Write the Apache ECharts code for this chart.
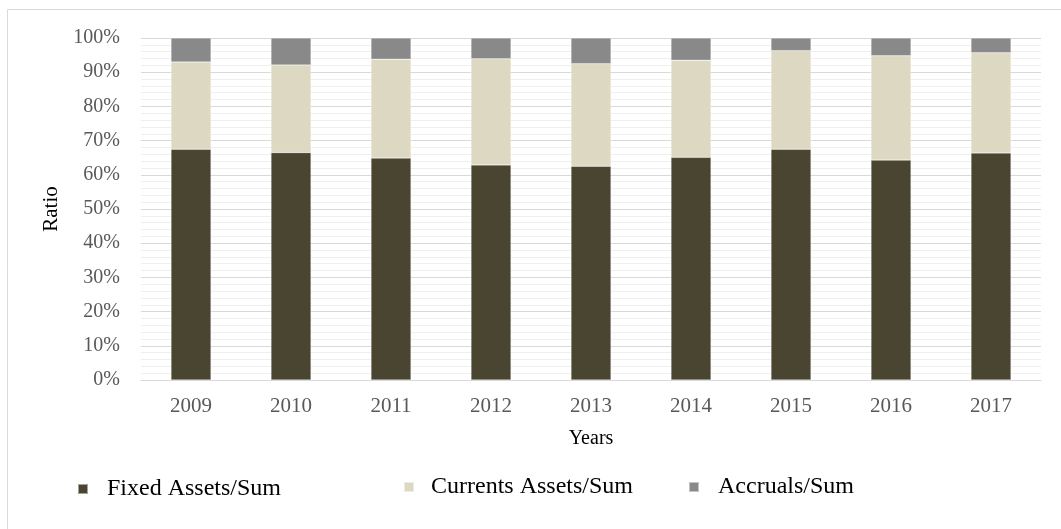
<!DOCTYPE html>
<html><head><meta charset="utf-8">
<script src="https://cdn.jsdelivr.net/npm/echarts@6/dist/echarts.min.js"></script>
<style>html,body{margin:0;padding:0;background:#fff}#c{width:1061px;height:529px}</style>
</head><body><div id="c"></div>
<script>
const years = ['2009','2010','2011','2012','2013','2014','2015','2016','2017'];
const fixedAssets = [67.5, 66.5, 64.9, 62.9, 62.5, 65.1, 67.5, 64.3, 66.4];
const currentAssets = [25.5, 25.6, 28.9, 31.0, 30.0, 28.4, 28.8, 30.5, 29.3];
const accruals = [7.0, 7.9, 6.2, 6.1, 7.5, 6.5, 3.7, 5.2, 4.3];
const seriesNames = ['Fixed Assets/Sum', 'Currents Assets/Sum', 'Accruals/Sum'];
const colors = ['#4A4530', '#DDD8C2', '#898989'];
const font = 'Liberation Serif';

const chart = echarts.init(document.getElementById('c'));
const dataSets = [fixedAssets, currentAssets, accruals];
const legendLeft = [72, 398, 683];
const legendTop = [472, 470, 470];
const legendPad = [14, 12, 14];
chart.setOption({
  animation: false,
  graphic: [{type:'rect', shape:{x:7.5,y:9.5,width:1100,height:560}, style:{fill:'none', stroke:'#d9d9d9', lineWidth:1}, silent:true}],
  legend: seriesNames.map((n,i)=>({
    data:[n], left: legendLeft[i], top: legendTop[i], icon:'rect', itemWidth:10, itemHeight:10,
    textStyle:{fontFamily:font, fontSize:24, color:'#000', padding:[0,0,0,legendPad[i]]}
  })),
  grid: {left:141, right:20, top:38, bottom:149},
  xAxis: {
    type:'category', data: years,
    axisLine:{lineStyle:{color:'#d9d9d9', width:1}}, axisTick:{show:false},
    axisLabel:{fontFamily:font, fontSize:21, color:'#595959', margin:16},
    name:'Years', nameLocation:'middle', nameGap:49,
    nameTextStyle:{fontFamily:font, fontSize:20, color:'#000'}
  },
  yAxis: {
    type:'value', min:0, max:100, interval:10,
    axisLabel:{fontFamily:font, fontSize:20, color:'#595959', margin:21, formatter: v=>v+'%'},
    splitLine:{lineStyle:{color:'#d9d9d9', width:1}},
    minorTick:{show:false, splitNumber:5},
    minorSplitLine:{show:true, lineStyle:{color:'#efefef', width:1}},
    axisLine:{show:false}, axisTick:{show:false},
    name:'Ratio', nameLocation:'middle', nameGap:72,
    nameTextStyle:{fontFamily:font, fontSize:21, color:'#000'}
  },
  series: seriesNames.map((n,i)=>({
    name:n, type:'bar', stack:'total', data: dataSets[i], barWidth:40,
    itemStyle:{color:colors[i], borderColor:'rgba(255,255,255,0.5)', borderWidth:0.5}
  }))
});
</script></body></html>
